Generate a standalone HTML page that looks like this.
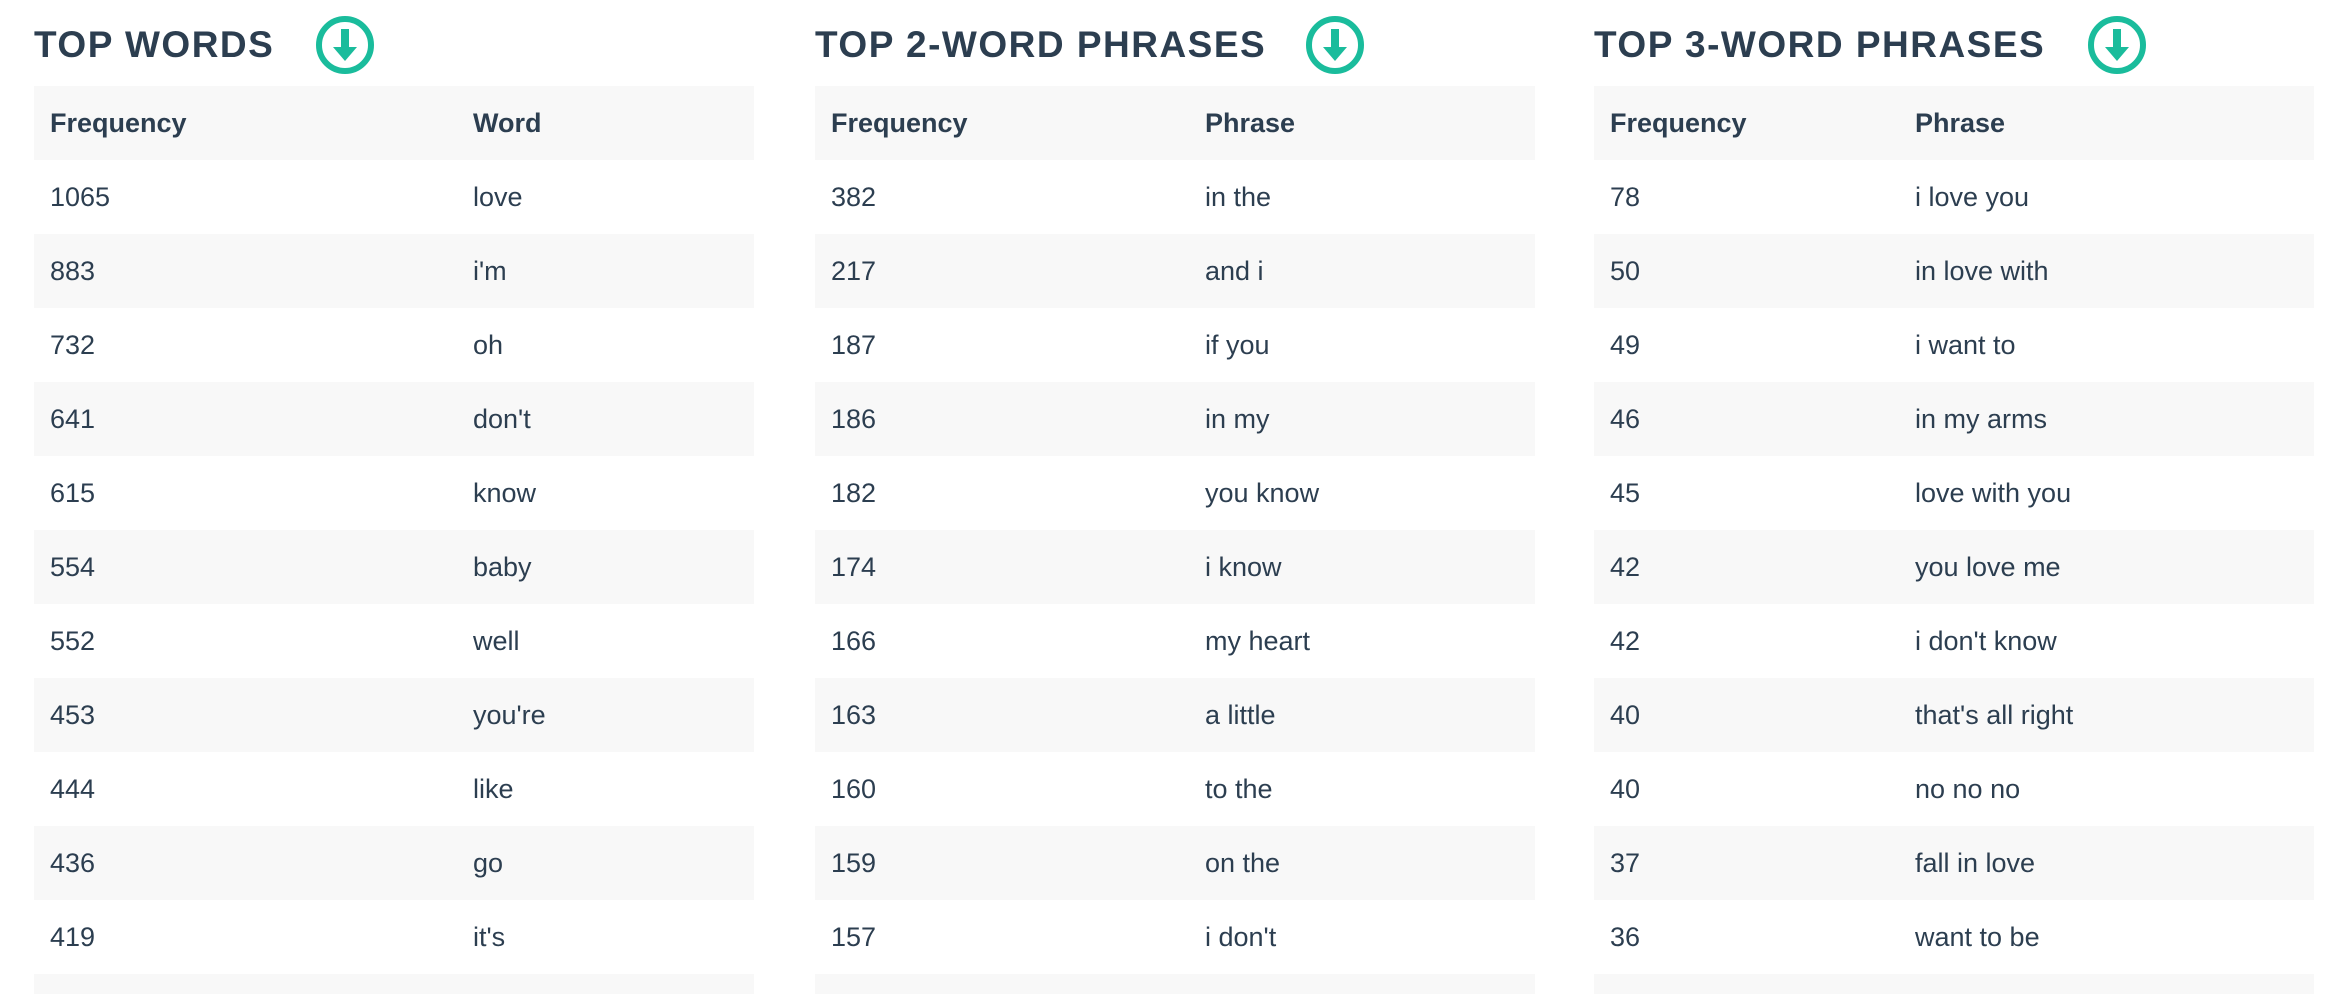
<!DOCTYPE html>
<html><head><meta charset="utf-8"><style>
html,body{margin:0;width:2332px;height:994px;overflow:hidden}
body{background:#fff;font-family:"Liberation Sans",sans-serif;color:#2c3e50;position:relative}
.t{position:absolute;top:0;width:720px;height:994px;overflow:hidden}
.title{position:absolute;top:24px;left:0;font-size:37px;font-weight:bold;letter-spacing:1.5px;white-space:nowrap}
.ic{position:absolute;top:16px;width:58px;height:58px;border:6px solid #1abc9c;border-radius:50%;box-sizing:border-box}
.ic:before{content:"";position:absolute;left:19px;top:7px;width:8px;height:20px;background:#1abc9c}
.ic:after{content:"";position:absolute;left:11px;top:25px;border-left:12px solid transparent;border-right:12px solid transparent;border-top:14px solid #1abc9c}
.r{position:absolute;left:0;width:720px;height:74px;font-size:27px;line-height:74px}
.g{background:#f8f8f8}
.r span{position:absolute;left:16px}
.h{font-weight:bold}
.last{height:20px}
</style></head><body>
<div class="t" style="left:34px">
<div class="title">TOP WORDS</div><div class="ic" style="left:282px"></div>
<div class="r g h" style="top:86px"><span>Frequency</span><span style="left:439px">Word</span></div>
<div class="r" style="top:160px"><span>1065</span><span style="left:439px">love</span></div>
<div class="r g" style="top:234px"><span>883</span><span style="left:439px">i'm</span></div>
<div class="r" style="top:308px"><span>732</span><span style="left:439px">oh</span></div>
<div class="r g" style="top:382px"><span>641</span><span style="left:439px">don't</span></div>
<div class="r" style="top:456px"><span>615</span><span style="left:439px">know</span></div>
<div class="r g" style="top:530px"><span>554</span><span style="left:439px">baby</span></div>
<div class="r" style="top:604px"><span>552</span><span style="left:439px">well</span></div>
<div class="r g" style="top:678px"><span>453</span><span style="left:439px">you're</span></div>
<div class="r" style="top:752px"><span>444</span><span style="left:439px">like</span></div>
<div class="r g" style="top:826px"><span>436</span><span style="left:439px">go</span></div>
<div class="r" style="top:900px"><span>419</span><span style="left:439px">it's</span></div>
<div class="r g last" style="top:974px"></div>
</div>
<div class="t" style="left:815px">
<div class="title">TOP 2-WORD PHRASES</div><div class="ic" style="left:491px"></div>
<div class="r g h" style="top:86px"><span>Frequency</span><span style="left:390px">Phrase</span></div>
<div class="r" style="top:160px"><span>382</span><span style="left:390px">in the</span></div>
<div class="r g" style="top:234px"><span>217</span><span style="left:390px">and i</span></div>
<div class="r" style="top:308px"><span>187</span><span style="left:390px">if you</span></div>
<div class="r g" style="top:382px"><span>186</span><span style="left:390px">in my</span></div>
<div class="r" style="top:456px"><span>182</span><span style="left:390px">you know</span></div>
<div class="r g" style="top:530px"><span>174</span><span style="left:390px">i know</span></div>
<div class="r" style="top:604px"><span>166</span><span style="left:390px">my heart</span></div>
<div class="r g" style="top:678px"><span>163</span><span style="left:390px">a little</span></div>
<div class="r" style="top:752px"><span>160</span><span style="left:390px">to the</span></div>
<div class="r g" style="top:826px"><span>159</span><span style="left:390px">on the</span></div>
<div class="r" style="top:900px"><span>157</span><span style="left:390px">i don't</span></div>
<div class="r g last" style="top:974px"></div>
</div>
<div class="t" style="left:1594px">
<div class="title">TOP 3-WORD PHRASES</div><div class="ic" style="left:494px"></div>
<div class="r g h" style="top:86px"><span>Frequency</span><span style="left:321px">Phrase</span></div>
<div class="r" style="top:160px"><span>78</span><span style="left:321px">i love you</span></div>
<div class="r g" style="top:234px"><span>50</span><span style="left:321px">in love with</span></div>
<div class="r" style="top:308px"><span>49</span><span style="left:321px">i want to</span></div>
<div class="r g" style="top:382px"><span>46</span><span style="left:321px">in my arms</span></div>
<div class="r" style="top:456px"><span>45</span><span style="left:321px">love with you</span></div>
<div class="r g" style="top:530px"><span>42</span><span style="left:321px">you love me</span></div>
<div class="r" style="top:604px"><span>42</span><span style="left:321px">i don't know</span></div>
<div class="r g" style="top:678px"><span>40</span><span style="left:321px">that's all right</span></div>
<div class="r" style="top:752px"><span>40</span><span style="left:321px">no no no</span></div>
<div class="r g" style="top:826px"><span>37</span><span style="left:321px">fall in love</span></div>
<div class="r" style="top:900px"><span>36</span><span style="left:321px">want to be</span></div>
<div class="r g last" style="top:974px"></div>
</div>
</body></html>
